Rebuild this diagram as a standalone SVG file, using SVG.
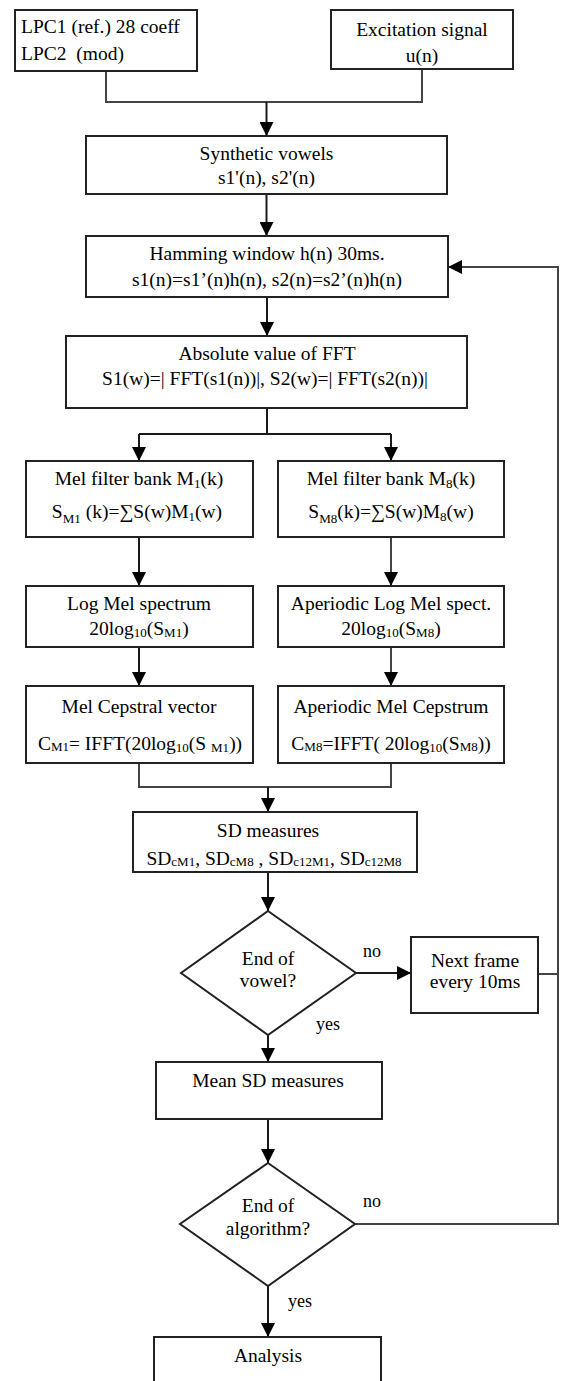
<svg xmlns="http://www.w3.org/2000/svg" width="561" height="1381" viewBox="0 0 561 1381">
<style>
.box{fill:#fff;stroke:#222;stroke-width:2}
.t{font-family:"Liberation Serif","Times New Roman",serif;font-size:19.5px;fill:#000}
.c{text-anchor:middle}
.s{font-size:13px}
.lbl{font-family:"Liberation Serif","Times New Roman",serif;font-size:18px;fill:#000}
.ln{fill:none;stroke:#1a1a1a;stroke-width:2}
.g{stroke:#444}
</style>
<defs>
<marker id="ah" viewBox="0 0 14 14" refX="14" refY="7" markerWidth="14" markerHeight="14" markerUnits="userSpaceOnUse" orient="auto">
<path d="M0,0 L14,7 L0,14 z" fill="#000"/>
</marker>
</defs>
<rect width="561" height="1381" fill="#fff"/>
<g id="connectors">
<path class="ln g" d="M106,71 V102 H422 V69"/>
<path class="ln" d="M266.5,102 V136" marker-end="url(#ah)"/>
<path class="ln" d="M266.5,194 V236" marker-end="url(#ah)"/>
<path class="ln" d="M267,297 V336" marker-end="url(#ah)"/>
<path class="ln" d="M267,408 V434 M139,434 H391"/>
<path class="ln" d="M139,434 V461" marker-end="url(#ah)"/>
<path class="ln" d="M391,434 V461" marker-end="url(#ah)"/>
<path class="ln" d="M139,537 V586" marker-end="url(#ah)"/>
<path class="ln g" d="M391,537 V586" marker-end="url(#ah)"/>
<path class="ln" d="M139,647 V686" marker-end="url(#ah)"/>
<path class="ln g" d="M391,647 V686" marker-end="url(#ah)"/>
<path class="ln g" d="M139,763 V787 H391 V763"/>
<path class="ln" d="M268,787 V812" marker-end="url(#ah)"/>
<path class="ln" d="M268,872 V911" marker-end="url(#ah)"/>
<path class="ln" d="M356,973 H411" marker-end="url(#ah)"/>
<path class="ln g" d="M538,974 H558"/>
<path class="ln" d="M268,1035 V1062" marker-end="url(#ah)"/>
<path class="ln" d="M268,1119 V1163" marker-end="url(#ah)"/>
<path class="ln g" d="M355,1224 H558 V267 H448" marker-end="url(#ah)"/>
<path class="ln" d="M268,1286 V1337" marker-end="url(#ah)"/>
<text class="lbl" x="363" y="957">no</text>
<text class="lbl" x="316" y="1030">yes</text>
<text class="lbl" x="363" y="1207">no</text>
<text class="lbl" x="288" y="1307">yes</text>
</g>
<g id="n-lpc">
<rect class="box" x="15" y="10" width="182" height="61"/>
<text class="t" x="21" y="33">LPC1 (ref.) 28 coeff</text>
<text class="t" x="21" y="60" xml:space="preserve">LPC2  (mod)</text>
</g>
<g id="n-exc">
<rect class="box" x="331" y="10" width="182" height="59"/>
<text class="t c" x="422" y="36">Excitation signal</text>
<text class="t c" x="422" y="62">u(n)</text>
</g>
<g id="n-synth">
<rect class="box" x="86" y="136" width="361" height="58"/>
<text class="t c" x="266.5" y="160">Synthetic vowels</text>
<text class="t c" x="266.5" y="184">s1'(n), s2'(n)</text>
</g>
<g id="n-hamming">
<rect class="box" x="86" y="236" width="362" height="61"/>
<text class="t c" x="267" y="260">Hamming window h(n) 30ms.</text>
<text class="t c" x="267" y="286">s1(n)=s1’(n)h(n), s2(n)=s2’(n)h(n)</text>
</g>
<g id="n-fft">
<rect class="box" x="66" y="336" width="401" height="72"/>
<text class="t c" x="267" y="360">Absolute value of FFT</text>
<text class="t c" x="265" y="385">S1(w)=| FFT(s1(n))|, S2(w)=| FFT(s2(n))|</text>
</g>
<g id="n-mel1">
<rect class="box" x="26" y="461" width="227" height="76"/>
<text class="t c" x="139" y="485">Mel filter bank M<tspan class="s" dy="3">1</tspan><tspan dy="-3">(k)</tspan></text>
<text class="t c" x="137" y="518">S<tspan class="s" dy="5">M1</tspan><tspan dy="-5"> (k)=∑S(w)M</tspan><tspan class="s" dy="3">1</tspan><tspan dy="-3">(w)</tspan></text>
</g>
<g id="n-mel8">
<rect class="box" x="278" y="461" width="226" height="76"/>
<text class="t c" x="391" y="485">Mel filter bank M<tspan class="s" dy="3">8</tspan><tspan dy="-3">(k)</tspan></text>
<text class="t c" x="391" y="518">S<tspan class="s" dy="5">M8</tspan><tspan dy="-5">(k)=∑S(w)M</tspan><tspan class="s" dy="3">8</tspan><tspan dy="-3">(w)</tspan></text>
</g>
<g id="n-log1">
<rect class="box" x="26" y="586" width="227" height="61"/>
<text class="t c" x="139" y="610">Log Mel spectrum</text>
<text class="t c" x="139" y="635">20log<tspan class="s" dy="2">10</tspan><tspan dy="-2">(S</tspan><tspan class="s" dy="2">M1</tspan><tspan dy="-2">)</tspan></text>
</g>
<g id="n-log8">
<rect class="box" x="278" y="586" width="226" height="61"/>
<text class="t c" x="391" y="610">Aperiodic Log Mel spect.</text>
<text class="t c" x="391" y="635">20log<tspan class="s" dy="2">10</tspan><tspan dy="-2">(S</tspan><tspan class="s" dy="2">M8</tspan><tspan dy="-2">)</tspan></text>
</g>
<g id="n-cep1">
<rect class="box" x="26" y="686" width="227" height="77"/>
<text class="t c" x="139" y="713">Mel Cepstral vector</text>
<text class="t c" x="140" y="750">C<tspan class="s" dy="1">M1</tspan><tspan dy="-1">= IFFT(20log</tspan><tspan class="s" dy="2">10</tspan><tspan dy="-2">(S </tspan><tspan class="s" dy="2">M1</tspan><tspan dy="-2">))</tspan></text>
</g>
<g id="n-cep8">
<rect class="box" x="278" y="686" width="226" height="77"/>
<text class="t c" x="391" y="713">Aperiodic Mel Cepstrum</text>
<text class="t c" x="391" y="750">C<tspan class="s" dy="1">M8</tspan><tspan dy="-1">=IFFT( 20log</tspan><tspan class="s" dy="2">10</tspan><tspan dy="-2">(S</tspan><tspan class="s" dy="1">M8</tspan><tspan dy="-1">))</tspan></text>
</g>
<g id="n-sd">
<rect class="box" x="133" y="812" width="284" height="60"/>
<text class="t c" x="268" y="837">SD measures</text>
<text class="t c" x="274" y="865">SD<tspan class="s" dy="1">cM1</tspan><tspan dy="-1">, SD</tspan><tspan class="s" dy="1">cM8</tspan><tspan dy="-1"> , SD</tspan><tspan class="s" dy="1">c12M1</tspan><tspan dy="-1">, SD</tspan><tspan class="s" dy="1">c12M8</tspan></text>
</g>
<g id="n-endvowel">
<polygon class="box" points="268,911 356,973 268,1035 181,973"/>
<text class="t c" x="268" y="965">End of</text>
<text class="t c" x="268" y="987">vowel?</text>
</g>
<g id="n-next">
<rect class="box" x="411" y="937" width="127" height="76"/>
<text class="t c" x="475" y="967">Next frame</text>
<text class="t c" x="475" y="988">every 10ms</text>
</g>
<g id="n-mean">
<rect class="box" x="156" y="1062" width="226" height="57"/>
<text class="t c" x="268" y="1087">Mean SD measures</text>
</g>
<g id="n-endalg">
<polygon class="box" points="268,1163 355,1224 268,1286 180,1224"/>
<text class="t c" x="268" y="1212">End of</text>
<text class="t c" x="268" y="1235">algorithm?</text>
</g>
<g id="n-analysis">
<rect class="box" x="154" y="1337" width="227" height="60"/>
<text class="t c" x="268" y="1362">Analysis</text>
</g>
</svg>
